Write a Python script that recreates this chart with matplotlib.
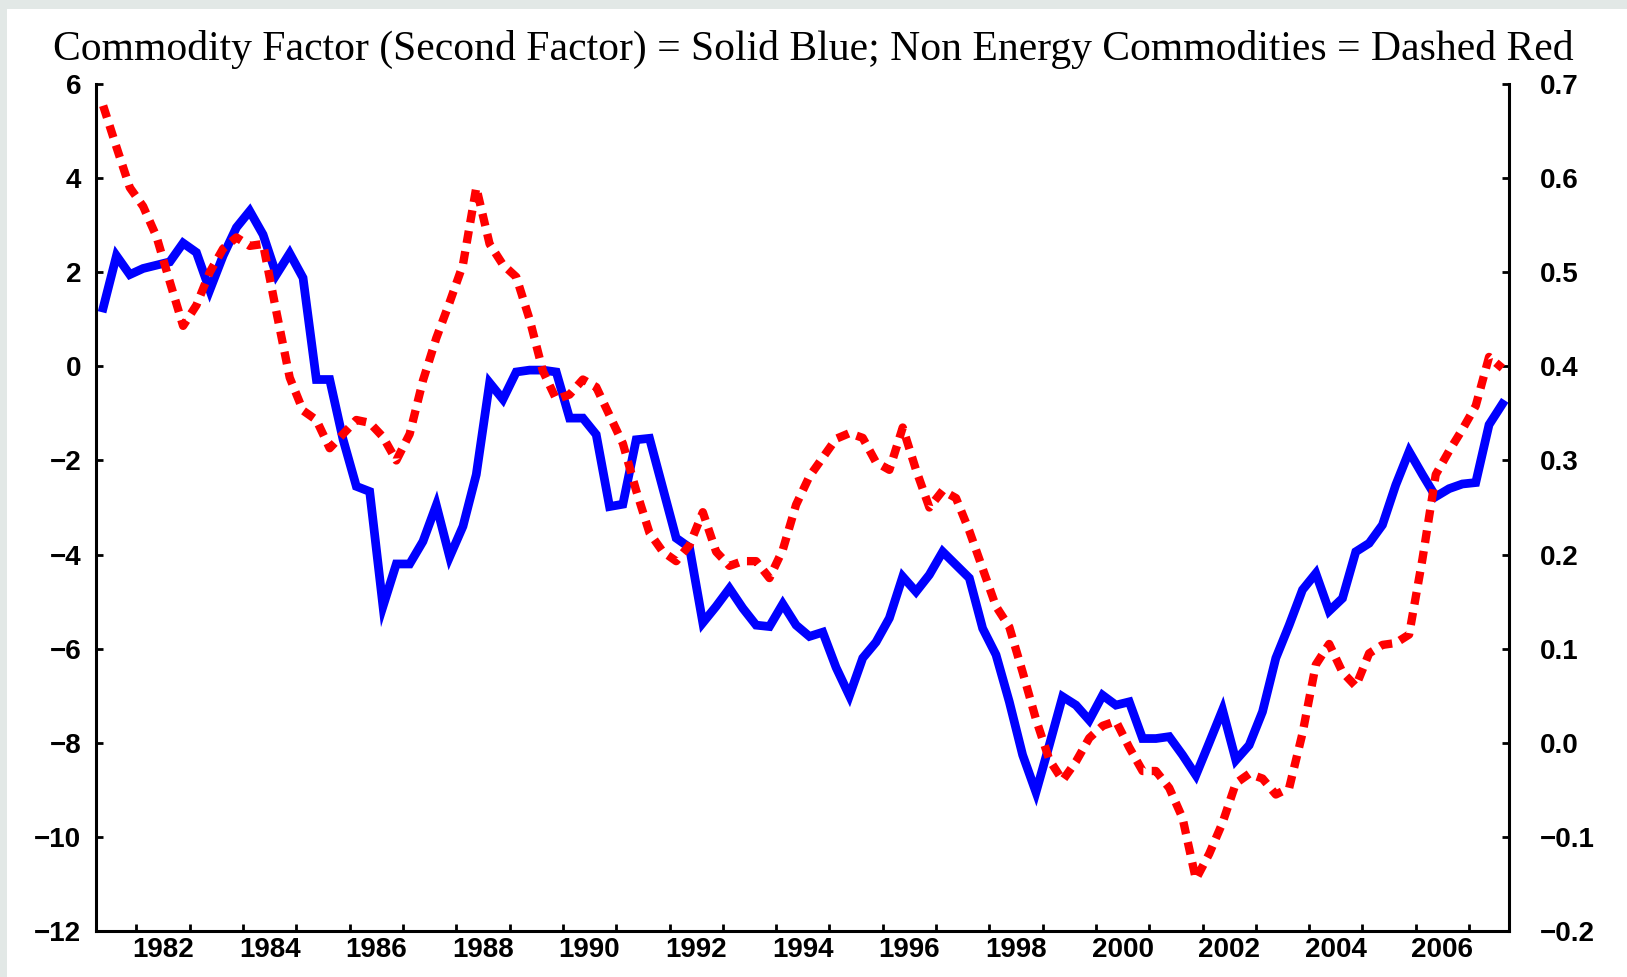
import numpy as np
import pandas as pd
import matplotlib
matplotlib.use('Agg')
import matplotlib.pyplot as plt
from matplotlib.patches import Rectangle
from matplotlib.ticker import FixedLocator, FixedFormatter, NullFormatter

# quarterly sample 1981Q2 - 2007Q3, plotted at mid-quarter
quarters = pd.period_range('1981Q2', '2007Q3', freq='Q')
x = quarters.year + (quarters.quarter - 0.5) / 4.0

# commodity factor (left axis)
commodity_factor = [
    1.24, 2.35, 1.95, 2.08, 2.15, 2.22, 2.62, 2.42, 1.62, 2.35,
    2.95, 3.30, 2.80, 1.95, 2.40, 1.88, -0.28, -0.28, -1.55, -2.55,
    -2.66, -5.10, -4.20, -4.20, -3.72, -2.95, -4.05, -3.40, -2.30, -0.35,
    -0.70, -0.12, -0.08, -0.08, -0.12, -1.10, -1.10, -1.45, -2.98, -2.93,
    -1.56, -1.53, -2.59, -3.65, -3.85, -5.45, -5.10, -4.72, -5.14, -5.50,
    -5.53, -5.05, -5.50, -5.74, -5.65, -6.40, -7.00, -6.20, -5.86, -5.35,
    -4.47, -4.79, -4.43, -3.94, -4.22, -4.50, -5.57, -6.13, -7.13, -8.26,
    -9.05, -8.05, -7.02, -7.20, -7.52, -6.99, -7.20, -7.13, -7.91, -7.91,
    -7.87, -8.26, -8.69, -8.00, -7.30, -8.37, -8.05, -7.34, -6.20, -5.50,
    -4.75, -4.40, -5.20, -4.93, -3.94, -3.76, -3.37, -2.52, -1.81, -2.30,
    -2.77, -2.60, -2.50, -2.47, -1.24, -0.80,
]

# non energy commodities (right axis)
non_energy = [
    0.677, 0.633, 0.590, 0.570, 0.538, 0.490, 0.443, 0.465, 0.500, 0.525,
    0.537, 0.528, 0.530, 0.458, 0.388, 0.353, 0.343, 0.313, 0.328, 0.343,
    0.340, 0.325, 0.300, 0.328, 0.385, 0.430, 0.468, 0.508, 0.590, 0.530,
    0.508, 0.495, 0.450, 0.395, 0.365, 0.370, 0.386, 0.378, 0.348, 0.318,
    0.268, 0.223, 0.203, 0.193, 0.210, 0.245, 0.203, 0.188, 0.193, 0.193,
    0.175, 0.205, 0.253, 0.283, 0.303, 0.323, 0.329, 0.324, 0.298, 0.290,
    0.335, 0.290, 0.250, 0.268, 0.260, 0.225, 0.185, 0.145, 0.123, 0.075,
    0.025, -0.018, -0.040, -0.020, 0.005, 0.018, 0.023, -0.005, -0.030, -0.030,
    -0.048, -0.080, -0.145, -0.118, -0.085, -0.043, -0.033, -0.038, -0.055, -0.048,
    0.010, 0.083, 0.105, 0.075, 0.060, 0.095, 0.104, 0.106, 0.115, 0.195,
    0.285, 0.310, 0.333, 0.358, 0.410, 0.398,
]

left_ticks = [-12, -10, -8, -6, -4, -2, 0, 2, 4, 6]
right_ticks = [-0.2, -0.1, 0.0, 0.1, 0.2, 0.3, 0.4, 0.5, 0.6, 0.7]
year_ticks = list(range(1982, 2008))
year_labels = [str(y) for y in range(1982, 2008, 2)]

plt.rcParams['font.family'] = 'Liberation Sans'
plt.rcParams['font.weight'] = 'bold'

fig = plt.figure(figsize=(16.27, 9.77), dpi=100, facecolor='#e2e8e6')
fig.patches.append(Rectangle((0.004, 0), 1, 0.991, transform=fig.transFigure,
                             facecolor='white', edgecolor='none', zorder=-5))

ax = fig.add_axes([0.0593, 0.0471, 0.8682, 0.8669])
ax2 = ax.twinx()

ax.plot(x, commodity_factor, color='#0000ff', lw=6.3, solid_joinstyle='miter')
ax2.plot(x, non_energy, color='#ff0000', lw=6.0, linestyle=(0, (1.5, 1.0)),
         dash_capstyle='butt')

ax.set_xlim(1981.25, 2007.75)
ax.set_ylim(-12, 6)
ax2.set_ylim(-0.2, 0.7)

ax.set_yticks(left_ticks)
ax2.set_yticks(right_ticks)
ax2.set_yticklabels(['%.1f' % v if v >= 0 else '\u2212%.1f' % abs(v) for v in right_ticks])

ax.xaxis.set_major_locator(FixedLocator(year_ticks))
ax.xaxis.set_major_formatter(NullFormatter())
ax.xaxis.set_minor_locator(FixedLocator([y + 0.5 for y in range(1982, 2008, 2)]))
ax.xaxis.set_minor_formatter(FixedFormatter(year_labels))

for a in (ax, ax2):
    a.spines['top'].set_visible(False)
    for s in a.spines.values():
        s.set_linewidth(2.2)
ax.spines['right'].set_visible(False)
ax2.spines['left'].set_visible(False)
ax2.spines['bottom'].set_visible(False)
ax2.patch.set_visible(False)

ax.tick_params(axis='x', which='major', direction='in', length=5, width=2)
ax.tick_params(axis='x', which='minor', length=0, pad=4, labelsize=20)
ax.tick_params(axis='y', direction='in', length=5, width=2, pad=11, labelsize=20)
ax2.tick_params(axis='y', direction='in', length=5, width=2, pad=22, labelsize=20)

fig.text(0.5, 0.949,
         'Commodity Factor (Second Factor) = Solid Blue; Non Energy Commodities = Dashed Red',
         ha='center', va='center', family='Liberation Serif', fontweight='normal', size=30)

fig.savefig('out.png', dpi=100, facecolor=fig.get_facecolor())
